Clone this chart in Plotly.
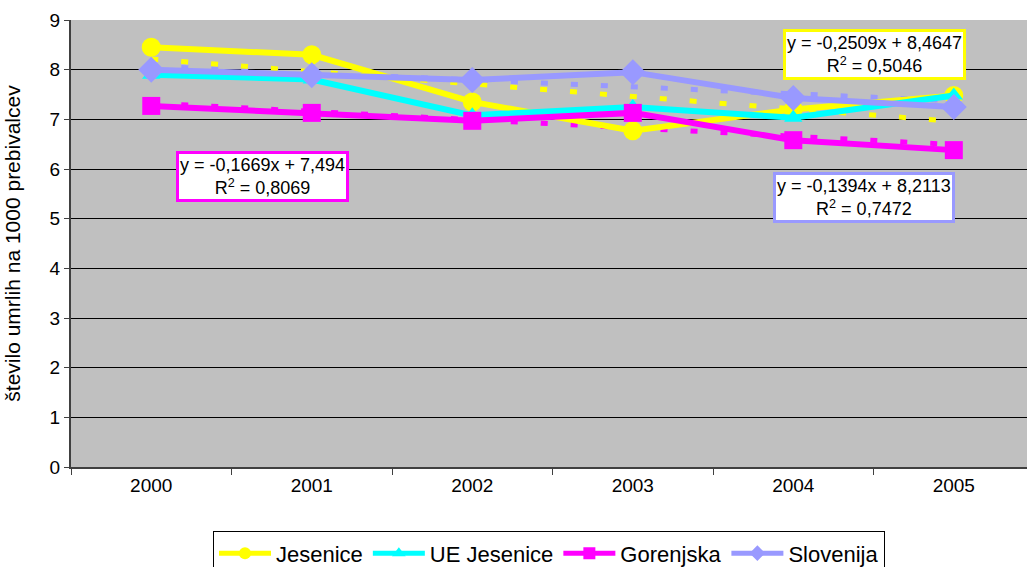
import plotly.graph_objects as go

years = ["2000", "2001", "2002", "2003", "2004", "2005"]
jesenice = [8.45, 8.30, 7.35, 6.77, 7.20, 7.48]
ue_jesenice = [7.90, 7.80, 7.08, 7.25, 7.03, 7.48]
gorenjska = [7.27, 7.13, 6.97, 7.13, 6.58, 6.38]
slovenija = [8.00, 7.89, 7.79, 7.95, 7.43, 7.25]

# trend line coefficients, as printed on the chart (x = 1..6)
trend_jes = [-0.2509, 8.4647]
trend_gor = [-0.1669, 7.494]
trend_slo = [-0.1394, 8.2113]

YELLOW = "#FFFF00"
CYAN = "#00FFFF"
MAGENTA = "#FF00FF"
LAVENDER = "#9999FF"

fig = go.Figure()


def trend(coef, color):
    ends = [coef[1] + coef[0] * 1, coef[1] + coef[0] * len(years)]
    fig.add_trace(go.Scatter(x=[years[0], years[-1]], y=ends, mode="lines",
                             line=dict(color=color, width=5, dash="7px,23px"),
                             showlegend=False, hoverinfo="skip"))


trend(trend_slo, LAVENDER)
trend(trend_jes, YELLOW)
trend(trend_gor, MAGENTA)

series = [
    ("Jesenice", jesenice, YELLOW, "circle", 19),
    ("UE Jesenice", ue_jesenice, CYAN, "triangle-up", 16),
    ("Gorenjska", gorenjska, MAGENTA, "square", 18),
    ("Slovenija", slovenija, LAVENDER, "diamond", 20),
]
for name, vals, col, sym, sz in series:
    fig.add_trace(go.Scatter(x=years, y=vals, name=name, mode="lines+markers",
                             line=dict(color=col, width=6),
                             marker=dict(symbol=sym, size=sz, color=col)))

box_font = dict(family="Liberation Sans, Arial", size=18, color="black")
labels = [
    ("y = -0,1669x + 7,494<br>R<sup>2</sup> = 0,8069", 262, 176, MAGENTA),
    ("y = -0,2509x + 8,4647<br>R<sup>2</sup> = 0,5046", 874, 55, YELLOW),
    ("y = -0,1394x + 8,2113<br>R<sup>2</sup> = 0,7472", 864, 197, LAVENDER),
]
for text, px, py, col in labels:
    fig.add_annotation(text=text, xref="paper", yref="paper",
                       x=(px - 71) / (1027 - 71), y=(467 - py) / (467 - 20),
                       xanchor="center", yanchor="middle",
                       showarrow=False, font=box_font, bgcolor="white",
                       bordercolor=col, borderwidth=3, borderpad=1)

fig.update_layout(
    width=1028, height=567,
    margin=dict(l=71, r=1, t=20, b=100, autoexpand=False),
    paper_bgcolor="white", plot_bgcolor="#C0C0C0",
    font=dict(family="Liberation Sans, Arial", size=19, color="black"),
    showlegend=True,
    legend=dict(orientation="h", x=0.5, xanchor="center", y=-0.144, yanchor="top",
                bordercolor="black", borderwidth=1, bgcolor="white",
                font=dict(size=22), itemwidth=52, tracegroupgap=0,
                itemsizing="constant"),
    xaxis=dict(type="category", categoryorder="array", categoryarray=years,
               range=[-0.5, 5.456], showgrid=False,
               showline=True, linecolor="#404040", linewidth=2,
               ticks="outside", tickson="boundaries", ticklen=6, tickcolor="#404040"),
    yaxis=dict(range=[0, 9], dtick=1, showgrid=True, gridcolor="black", gridwidth=1,
               showline=True, linecolor="#404040", linewidth=2,
               ticks="outside", ticklen=5, tickcolor="#404040", zeroline=False,
               title=dict(text="število umrlih na 1000 prebivalcev", standoff=23,
                          font=dict(size=21))),
)

# drop the browser's default page margin so the chart starts at the corner
fig.write_html("out.html", config={"displayModeBar": False},
               post_script="document.body.style.margin='0';")
